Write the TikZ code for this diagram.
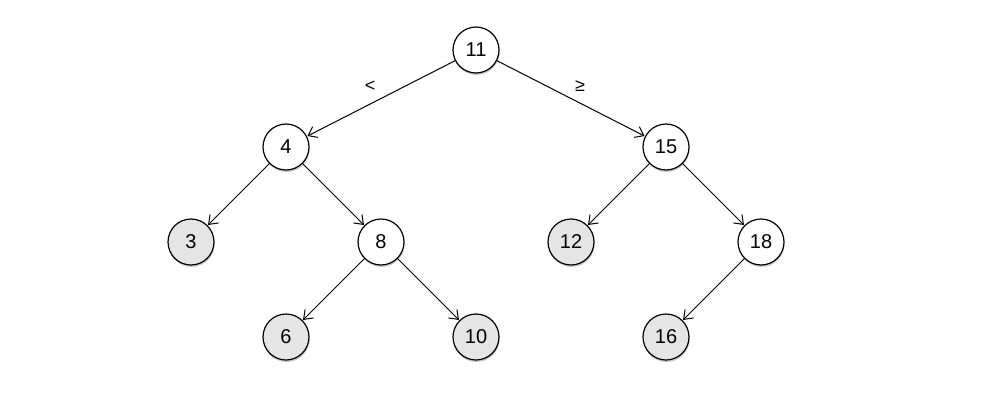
\documentclass[tikz,border=0pt]{standalone}
\usepackage{fontspec}
\setmainfont{Liberation Sans}
\usetikzlibrary{shadows,arrows.meta}
\begin{document}
\begin{tikzpicture}[x=1pt,y=-1pt,
  tnode/.style={circle,draw=black,line width=1.2pt,fill=white,minimum size=46pt,inner sep=0pt,font=\fontsize{20}{22}\selectfont,
    drop shadow={shadow xshift=0.6pt,shadow yshift=-2pt,opacity=0.35,fill=black!60}},
  leaf/.style={tnode,fill=black!10},
  edge/.style={-{Straight Barb[length=8pt,width=12pt,line width=1pt]},line width=1pt,shorten >=0.5pt},
  lbl/.style={font=\fontsize{18}{20}\selectfont}]
\useasboundingbox (0,0) rectangle (1000,407);
\node[tnode] (n11) at (476,50) {11};
\node[tnode] (n4) at (286,147) {4};
\node[tnode] (n15) at (666,147) {15};
\node[leaf] (n3) at (191,242) {3};
\node[tnode] (n8) at (381,242) {8};
\node[leaf] (n12) at (571,242) {12};
\node[tnode] (n18) at (761,242) {18};
\node[leaf] (n6) at (286,337) {6};
\node[leaf] (n10) at (476,337) {10};
\node[leaf] (n16) at (666,337) {16};
\draw[edge] (n11) -- (n4);
\draw[edge] (n11) -- (n15);
\draw[edge] (n4) -- (n3);
\draw[edge] (n4) -- (n8);
\draw[edge] (n8) -- (n6);
\draw[edge] (n8) -- (n10);
\draw[edge] (n15) -- (n12);
\draw[edge] (n15) -- (n18);
\draw[edge] (n18) -- (n16);
\node[lbl] (lt) at (370,86) {<};
\node[lbl] (ge) at (580,86) {≥};
\end{tikzpicture}
\end{document}
